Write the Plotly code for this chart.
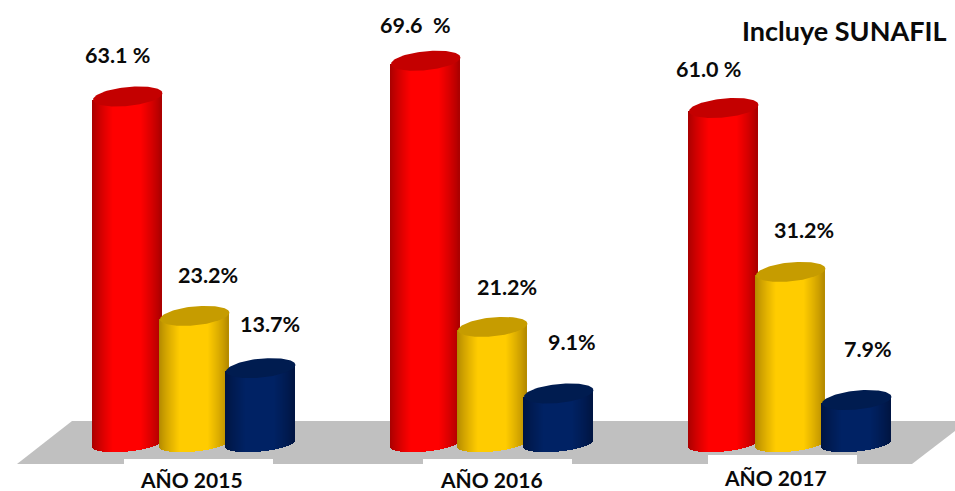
import numpy as np
import plotly.graph_objects as go

years = ["AÑO 2015", "AÑO 2016", "AÑO 2017"]
red_values = [63.1, 69.6, 61.0]
gold_values = [23.2, 21.2, 31.2]
blue_values = [13.7, 9.1, 7.9]
red_labels = ["63.1 %", "69.6  %", "61.0 %"]
gold_labels = ["23.2%", "21.2%", "31.2%"]
blue_labels = ["13.7%", "9.1%", "7.9%"]
note = "Incluye SUNAFIL"

# --- layout helpers (pixel geometry of the scene) ---
W, H = 955, 491
BASE_PX = 443.5
PX_PER_UNIT = 5.5


def val(py):
    return (BASE_PX - py) / PX_PER_UNIT


HALF_W = 34.7
TILT = 3.3
CAP_B = 9.5
BASE_B = 8.0
FONT = "Lato, Carlito, Calibri, sans-serif"

group_left = [93, 391, 689]
series_offset = [0, 67, 133]

styles = [
    dict(name="red", edge=(165, 0, 0), mid=(255, 0, 0), cap="#c40000"),
    dict(name="gold", edge=(176, 134, 0), mid=(255, 204, 0), cap="#c69c00"),
    dict(name="blue", edge=(0, 20, 64), mid=(0, 34, 100), cap="#001c50"),
]
series = [red_values, gold_values, blue_values]
labels = [red_labels, gold_labels, blue_labels]
label_pos = [
    [(117, 55), (415, 25), (708, 69)],
    [(208, 275), (507, 287), (804, 230)],
    [(270, 324), (572, 342), (868, 349)],
]
year_pos = [(191, 479), (491, 479), (775, 477)]
box_left = [124, 423, 708]
box_top = [459, 459, 455]


def shade(edge, mid, u):
    t = min(1.0, (1 - abs(u)) / 0.6)
    t = t ** 0.8
    return "rgb(%d,%d,%d)" % tuple(int(round(e + (m - e) * t)) for e, m in zip(edge, mid))


fig = go.Figure()

for s_idx, (values, st) in enumerate(zip(series, styles)):
    for g_idx, v in enumerate(values):
        xc = group_left[g_idx] + series_offset[s_idx] + HALF_W
        xs = np.arange(xc - HALF_W + 0.5, xc + HALF_W, 1.0)
        us = (xs - xc) / HALF_W
        root = np.sqrt(np.clip(1 - us ** 2, 0, 1))
        # body strips: bars whose height comes from the value
        bottoms = (TILT * us - BASE_B * root) / PX_PER_UNIT
        tops = v + (TILT * us) / PX_PER_UNIT
        fig.add_trace(go.Bar(
            x=xs, y=tops - bottoms, base=bottoms, width=1.35,
            marker=dict(color=[shade(st["edge"], st["mid"], u) for u in us], line=dict(width=0)),
            hoverinfo="skip", showlegend=False,
        ))
        # top cap of the cylinder
        t = np.linspace(0, 2 * np.pi, 120)
        cx = xc + HALF_W * np.cos(t)
        cy = v + (TILT * np.cos(t) + CAP_B * np.sin(t)) / PX_PER_UNIT
        fig.add_trace(go.Scatter(
            x=cx, y=cy, mode="lines", fill="toself", fillcolor=st["cap"],
            line=dict(width=0, color=st["cap"]), hoverinfo="skip", showlegend=False,
        ))

annotations = []
for s_idx in range(3):
    for g_idx in range(3):
        px, py = label_pos[s_idx][g_idx]
        annotations.append(dict(
            x=px, y=val(py), text="<b>%s</b>" % labels[s_idx][g_idx], showarrow=False,
            font=dict(family=FONT, size=21.5, color="#0a0a0a"),
        ))
for name, (px, py) in zip(years, year_pos):
    annotations.append(dict(
        x=px, y=val(py), text="<b>%s</b>" % name, showarrow=False,
        font=dict(family=FONT, size=21, color="#0a0a0a"),
    ))
annotations.append(dict(
    x=844, y=val(30), text="<b>%s</b>" % note, showarrow=False,
    font=dict(family=FONT, size=27, color="#0a0a0a"),
))

plane_path = "M %g %g L %g %g L %g %g L %g %g Z" % (
    17, val(464), 72, val(421), 968, val(421), 912, val(464))
shapes = [dict(type="path", path=plane_path, fillcolor="#c0c0c0", line=dict(width=0), layer="below")]
for bl, bt in zip(box_left, box_top):
    shapes.append(dict(type="rect", x0=bl, x1=bl + 149, y0=val(bt), y1=val(491),
                       fillcolor="white", line=dict(width=0), layer="below"))

fig.update_layout(
    width=W, height=H, margin=dict(l=0, r=0, t=0, b=0),
    paper_bgcolor="white", plot_bgcolor="white",
    barmode="overlay", bargap=0,
    xaxis=dict(range=[0, W], visible=False, fixedrange=True),
    yaxis=dict(range=[val(H), val(0)], visible=False, fixedrange=True),
    shapes=shapes, annotations=annotations, showlegend=False,
)

fig.write_html("out.html", config={"displayModeBar": False},
               post_script="document.body.style.margin='0';")
